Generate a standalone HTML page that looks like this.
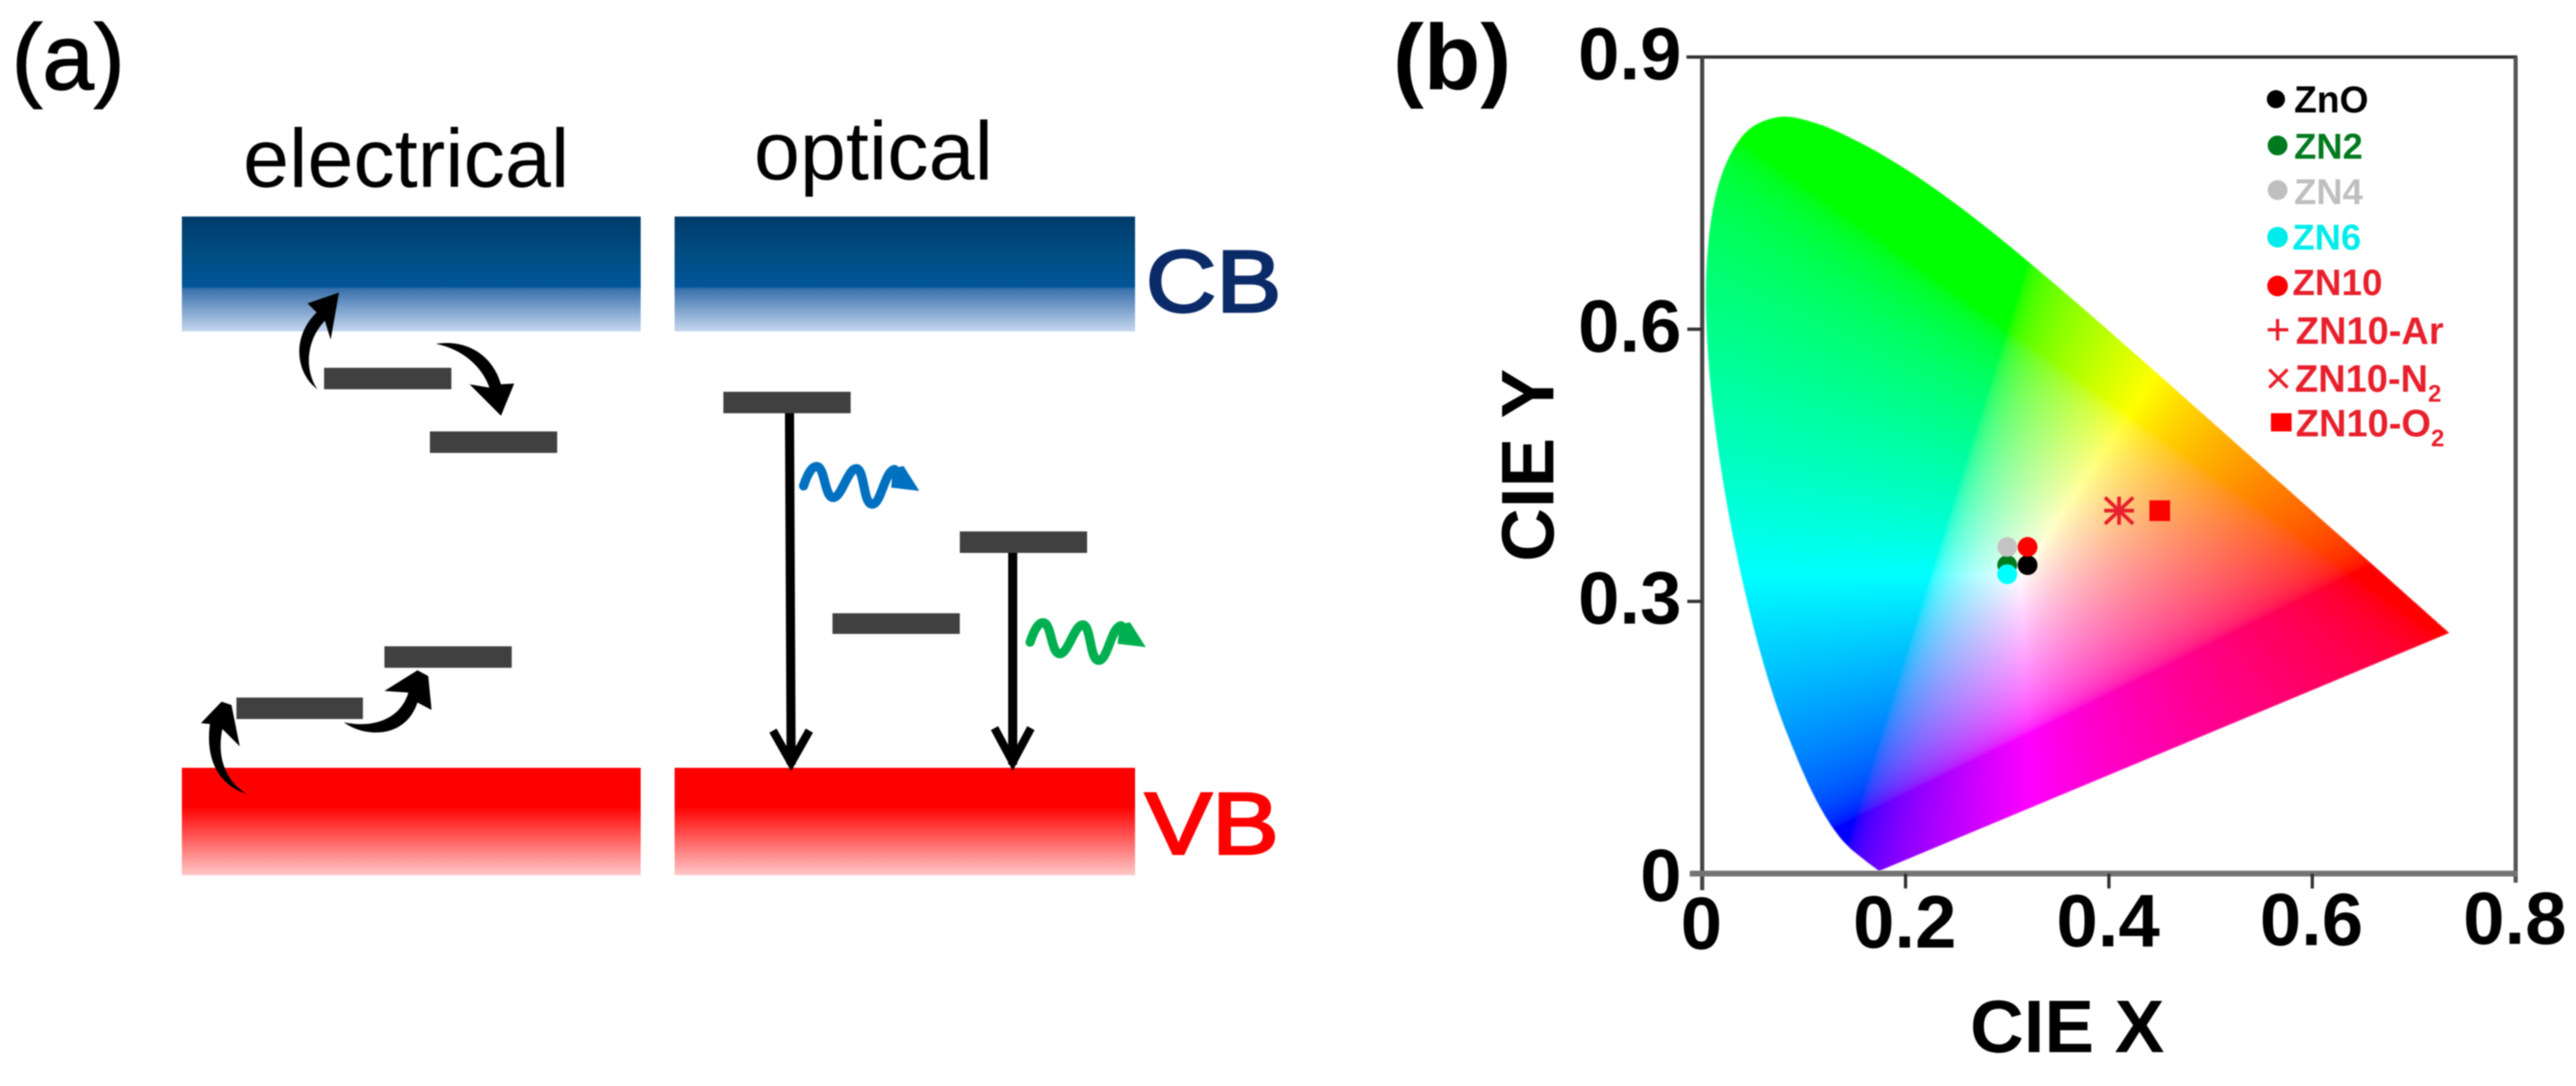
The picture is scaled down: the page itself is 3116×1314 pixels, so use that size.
<!DOCTYPE html>
<html lang="en">
<head>
<meta charset="utf-8">
<title>Energy band diagram and CIE chromaticity chart</title>
<style>
html,body{margin:0;padding:0;background:#fff;}
#page{position:relative;width:3116px;height:1314px;overflow:hidden;background:#fff;}
#gamut,#overlay{position:absolute;left:0;top:0;width:3116px;height:1314px;filter:blur(0.9px);}
text{font-family:"Liberation Sans",sans-serif;}
</style>
</head>
<body>
<div id="page">
<canvas id="gamut" width="3116" height="1314"></canvas>
<svg id="overlay" xmlns="http://www.w3.org/2000/svg" width="3116" height="1314" viewBox="0 0 3116 1314">
  <defs>
    <linearGradient id="cbGrad" x1="0" y1="0" x2="0" y2="1">
      <stop offset="0" stop-color="#003a6b"/>
      <stop offset="0.3" stop-color="#004c80"/>
      <stop offset="0.61" stop-color="#005599"/>
      <stop offset="0.63" stop-color="#3a70ac"/>
      <stop offset="1" stop-color="#c5d7ef"/>
    </linearGradient>
    <linearGradient id="vbGrad" x1="0" y1="0" x2="0" y2="1">
      <stop offset="0" stop-color="#ff0000"/>
      <stop offset="0.36" stop-color="#ff0000"/>
      <stop offset="0.55" stop-color="#ff3a3a"/>
      <stop offset="1" stop-color="#ffc8c8"/>
    </linearGradient>
  </defs>

  <g id="panel-a">
    <text x="14" y="108" font-size="112" stroke="#000" stroke-width="1.5">(a)</text>
    <text x="294" y="226" font-size="100">electrical</text>
    <text x="912" y="217" font-size="100">optical</text>

    <rect x="220" y="262" width="555" height="139" fill="url(#cbGrad)"/>
    <rect x="816" y="262" width="557" height="139" fill="url(#cbGrad)"/>
    <rect x="220" y="929" width="555" height="130" fill="url(#vbGrad)"/>
    <rect x="816" y="929" width="557" height="130" fill="url(#vbGrad)"/>

    <text x="1386" y="377" font-size="106" fill="#0b2a68" stroke="#0b2a68" stroke-width="3" textLength="164" lengthAdjust="spacingAndGlyphs">CB</text>
    <text x="1385" y="1033" font-size="106" fill="#ff0000" stroke="#ff0000" stroke-width="3" textLength="162" lengthAdjust="spacingAndGlyphs">VB</text>

    <g fill="#404040">
      <rect x="392" y="445" width="154" height="26"/>
      <rect x="520" y="522" width="154" height="26"/>
      <rect x="465" y="782" width="154" height="26"/>
      <rect x="286" y="844" width="153" height="26"/>
      <rect x="875" y="474" width="154" height="26"/>
      <rect x="1161" y="643" width="154" height="26"/>
      <rect x="1007" y="742" width="154" height="25"/>
    </g>

    <g fill="#000">
      <path d="M384 471 C 358 452 352 408 383 378 L 372 367 L 410 354 L 400 411 L 393 388 C 370 412 368 448 384 471 Z"/>
      <path d="M527 416 C 565 410 596 430 606 465 L 622 464 L 606 503 L 568 465 L 592 469 C 584 445 560 422 527 416 Z"/>
      <path d="M299 961 C 265 950 248 920 254 876 L 243 875 L 268 849 L 280 853 L 290 903 L 269 882 C 262 915 272 945 299 961 Z"/>
      <path d="M416 874 C 440 892 490 895 505 850 L 522 859 L 518 818 L 505 811 L 465 836 L 494 838 C 485 868 455 882 416 874 Z"/>
    </g>

    <g stroke="#000" fill="none">
      <line x1="955" y1="500" x2="957" y2="925" stroke-width="11"/>
      <polyline points="935,884 957,923 979,884" stroke-width="10"/>
      <line x1="1225" y1="669" x2="1225" y2="925" stroke-width="11"/>
      <polyline points="1203,881 1225,922 1247,881" stroke-width="10"/>
    </g>

    <g>
      <path d="M972 588 C 978 570 984 562 990 565 C 998 570 998 602 1008 602 C 1018 602 1026 566 1036 567 C 1046 568 1044 610 1055 610 C 1066 610 1070 570 1082 568" fill="none" stroke="#0070c0" stroke-width="11" stroke-linecap="round"/>
      <polygon points="1080,566 1093,564 1112,594 1078,590" fill="#0070c0"/>
    </g>
    <g transform="translate(274 189)">
      <path d="M972 588 C 978 570 984 562 990 565 C 998 570 998 602 1008 602 C 1018 602 1026 566 1036 567 C 1046 568 1044 610 1055 610 C 1066 610 1070 570 1082 568" fill="none" stroke="#00b050" stroke-width="11" stroke-linecap="round"/>
      <polygon points="1080,566 1093,564 1112,594 1078,590" fill="#00b050"/>
    </g>
  </g>

  <g id="panel-b">
    <text x="1685" y="108" font-size="112" font-weight="700">(b)</text>
    <g id="axes"></g>
    <text x="2383" y="1273" font-size="90" font-weight="700">CIE X</text>
    <text transform="translate(1879 563) rotate(-90)" text-anchor="middle" font-size="90" font-weight="700">CIE Y</text>
    <g id="marks"></g>
    <g id="legend">
      <g>
        <circle cx="2753" cy="120" r="11" fill="#000"/>
        <text x="2775" y="136" font-size="45" font-weight="700" fill="#000">ZnO</text>
      </g>
      <g>
        <circle cx="2755" cy="176" r="12" fill="#007a1e"/>
        <text x="2775" y="192" font-size="44" font-weight="700" fill="#007a1e">ZN2</text>
      </g>
      <g>
        <circle cx="2755" cy="230" r="12" fill="#bfbfbf"/>
        <text x="2775" y="247" font-size="44" font-weight="700" fill="#bfbfbf">ZN4</text>
      </g>
      <g>
        <circle cx="2755" cy="287" r="12.5" fill="#00ecec"/>
        <text x="2773" y="302" font-size="44" font-weight="700" fill="#00ecec">ZN6</text>
      </g>
      <g>
        <circle cx="2755" cy="346" r="12.5" fill="#ff0000"/>
        <text x="2773" y="357" font-size="44.5" font-weight="700" fill="#e8202c">ZN10</text>
      </g>
      <g>
        <path d="M2743 399 H2768 M2755 386 V412" stroke="#e8202c" stroke-width="4" fill="none"/>
        <text x="2777" y="416" font-size="46" font-weight="700" fill="#e8202c">ZN10-Ar</text>
      </g>
      <g>
        <path d="M2745 447 L2767 469 M2767 447 L2745 469" stroke="#e8202c" stroke-width="4" fill="none"/>
        <text x="2776" y="474" font-size="46" font-weight="700" fill="#e8202c">ZN10-N<tspan dy="12" font-size="29">2</tspan></text>
      </g>
      <g>
        <rect x="2747" y="500" width="25" height="22" fill="#ff0000"/>
        <text x="2777" y="528" font-size="46" font-weight="700" fill="#e8202c">ZN10-O<tspan dy="12" font-size="29">2</tspan></text>
      </g>
    </g>
  </g>
</svg>
</div>
<script>
/* chart data */
const xTickValues = [0, 0.2, 0.4, 0.6, 0.8];
const yTickValues = [0, 0.3, 0.6, 0.9];
const xTickLabels = ['0', '0.2', '0.4', '0.6', '0.8'];
const yTickLabels = ['0', '0.3', '0.6', '0.9'];
const sampleNames = ['ZnO', 'ZN2', 'ZN4', 'ZN6', 'ZN10', 'ZN10-Ar', 'ZN10-N2', 'ZN10-O2'];
const sampleX = [0.32, 0.30, 0.30, 0.30, 0.32, 0.41, 0.41, 0.45];
const sampleY = [0.34, 0.34, 0.36, 0.33, 0.36, 0.40, 0.40, 0.40];
const locusX = [0.1741,0.1714,0.1644,0.1566,0.1510,0.1440,0.1355,0.1241,0.1096,0.0913,0.0687,0.0454,0.0235,0.0082,0.0039,0.0139,0.0389,0.0743,0.1142,0.1547,0.1929,0.2296,0.2658,0.3016,0.3373,0.3731,0.4087,0.4441,0.4788,0.5125,0.5448,0.5752,0.6029,0.6270,0.6658,0.6915,0.7079,0.7347];
const locusY = [0.0030,0.0051,0.0109,0.0177,0.0227,0.0297,0.0399,0.0578,0.0868,0.1327,0.2007,0.2950,0.4127,0.5384,0.6548,0.7502,0.8120,0.8338,0.8262,0.8059,0.7816,0.7543,0.7243,0.6923,0.6589,0.6245,0.5896,0.5547,0.5202,0.4866,0.4544,0.4242,0.3965,0.3725,0.3340,0.3083,0.2920,0.2653];

/* axis functions */
const X0 = 2059, X1 = 3043, Y0 = 1057, Y1 = 69;
function xScale(v) { return X0 + (X1 - X0) * v / 0.8; }
function yScale(v) { return Y0 + (Y1 - Y0) * v / 0.9; }

const SVGNS = 'http://www.w3.org/2000/svg';
function make(tag, attrs, parent) {
  const el = document.createElementNS(SVGNS, tag);
  for (const k in attrs) el.setAttribute(k, attrs[k]);
  parent.appendChild(el);
  return el;
}

/* colour area */
function paintGamut() {
  const canvas = document.getElementById('gamut');
  const ctx = canvas.getContext('2d');
  const left = Math.floor(xScale(0)), right = Math.ceil(xScale(0.75));
  const top = Math.floor(yScale(0.85)), bottom = Math.ceil(yScale(0));
  const w = right - left, h = bottom - top;
  const off = document.createElement('canvas');
  off.width = w; off.height = h;
  const octx = off.getContext('2d');
  const img = octx.createImageData(w, h);
  const gam = c => c <= 0 ? 0 : (c <= 0.0031308 ? 12.92 * c : 1.055 * Math.pow(c, 1 / 2.4) - 0.055);
  for (let j = 0; j < h; j++) {
    const cy = Math.max(0.002, (top + j + 0.5 - Y0) / (Y1 - Y0) * 0.9);
    for (let i = 0; i < w; i++) {
      const cx = (left + i + 0.5 - X0) / (X1 - X0) * 0.8;
      const XX = cx / cy, ZZ = (1 - cx - cy) / cy;
      let r = 3.2406 * XX - 1.5372 - 0.4986 * ZZ;
      let g = -0.9689 * XX + 1.8758 + 0.0415 * ZZ;
      let b = 0.0557 * XX - 0.2040 + 1.0570 * ZZ;
      r = Math.max(0, r); g = Math.max(0, g); b = Math.max(0, b);
      const m = Math.max(r, g, b) || 1;
      const p = (j * w + i) * 4;
      img.data[p] = 255 * gam(r / m);
      img.data[p + 1] = 255 * gam(g / m);
      img.data[p + 2] = 255 * gam(b / m);
      img.data[p + 3] = 255;
    }
  }
  octx.putImageData(img, 0, 0);
  ctx.save();
  ctx.beginPath();
  const n = locusX.length;
  const px = i => xScale(locusX[Math.max(0, Math.min(n - 1, i))]);
  const py = i => yScale(locusY[Math.max(0, Math.min(n - 1, i))]);
  ctx.moveTo(px(0), py(0));
  for (let i = 0; i < n - 1; i++) {
    ctx.bezierCurveTo(
      px(i) + (px(i + 1) - px(i - 1)) / 6, py(i) + (py(i + 1) - py(i - 1)) / 6,
      px(i + 1) - (px(i + 2) - px(i)) / 6, py(i + 1) - (py(i + 2) - py(i)) / 6,
      px(i + 1), py(i + 1));
  }
  ctx.closePath();
  ctx.clip();
  ctx.drawImage(off, left, top);
  ctx.restore();
}
paintGamut();

/* axes */
const axes = document.getElementById('axes');
const frameTop = make('line', {x1: 2040, y1: Y1, x2: X1 + 2, y2: Y1, stroke: '#333', 'stroke-width': 4}, axes);


const frameRight = make('line', {x1: X1, y1: Y1, x2: X1, y2: 1068, stroke: '#555', 'stroke-width': 5}, axes);


const frameLeft = make('line', {x1: X0, y1: Y1, x2: X0, y2: 1077, stroke: '#444', 'stroke-width': 5}, axes);


const frameBottom = make('line', {x1: 2044, y1: Y0, x2: X1 + 2, y2: Y0, stroke: '#747474', 'stroke-width': 7}, axes);



xTickValues.forEach(function (v, i) {
  if (v > 0 && v < 0.8) {
    const tick = make('line', {x1: xScale(v), y1: Y0, x2: xScale(v), y2: 1075, stroke: '#333', 'stroke-width': 4}, axes);
    
    
  }
  const label = make('text', {x: xScale(v) - 1, y: 1148 - v * 7.5, 'text-anchor': 'middle', 'font-size': 90, 'font-weight': 700}, axes);
  label.textContent = xTickLabels[i];
  
  
});
yTickValues.forEach(function (v, i) {
  if (v > 0 && v < 0.9) {
    const tick = make('line', {x1: 2041, y1: yScale(v), x2: X0, y2: yScale(v), stroke: '#333', 'stroke-width': 4}, axes);
    
    
  }
  const label = make('text', {x: 2034, y: yScale(v) + (v === 0 ? 33 : 27), 'text-anchor': 'end', 'font-size': 90, 'font-weight': 700}, axes);
  label.textContent = yTickLabels[i];
  
  
});

/* sample marks */
const marks = document.getElementById('marks');
const sampleFill = {'ZnO': '#000000', 'ZN2': '#007a1e', 'ZN4': '#c4c4c4', 'ZN6': '#00ffff', 'ZN10': '#ff0000'};
sampleNames.forEach(function (name, i) {
  const cx = xScale(sampleX[i]), cy = yScale(sampleY[i]);
  let el;
  if (sampleFill[name]) {
    el = make('circle', {cx: cx, cy: cy, r: 12, fill: sampleFill[name]}, marks);
  } else if (name === 'ZN10-Ar') {
    el = make('path', {d: 'M' + (cx - 18) + ' ' + cy + ' H' + (cx + 18) + ' M' + cx + ' ' + (cy - 17) + ' V' + (cy + 17), stroke: '#e8202c', 'stroke-width': 4.5, fill: 'none'}, marks);
  } else if (name === 'ZN10-N2') {
    el = make('path', {d: 'M' + (cx - 17) + ' ' + (cy - 16) + ' L' + (cx + 17) + ' ' + (cy + 16) + ' M' + (cx + 17) + ' ' + (cy - 16) + ' L' + (cx - 17) + ' ' + (cy + 16), stroke: '#e8202c', 'stroke-width': 4.5, fill: 'none'}, marks);
  } else {
    el = make('rect', {x: cx - 12.5, y: cy - 12.5, width: 25, height: 25, fill: '#ff0000'}, marks);
  }
  
  
});
</script>
</body>
</html>
